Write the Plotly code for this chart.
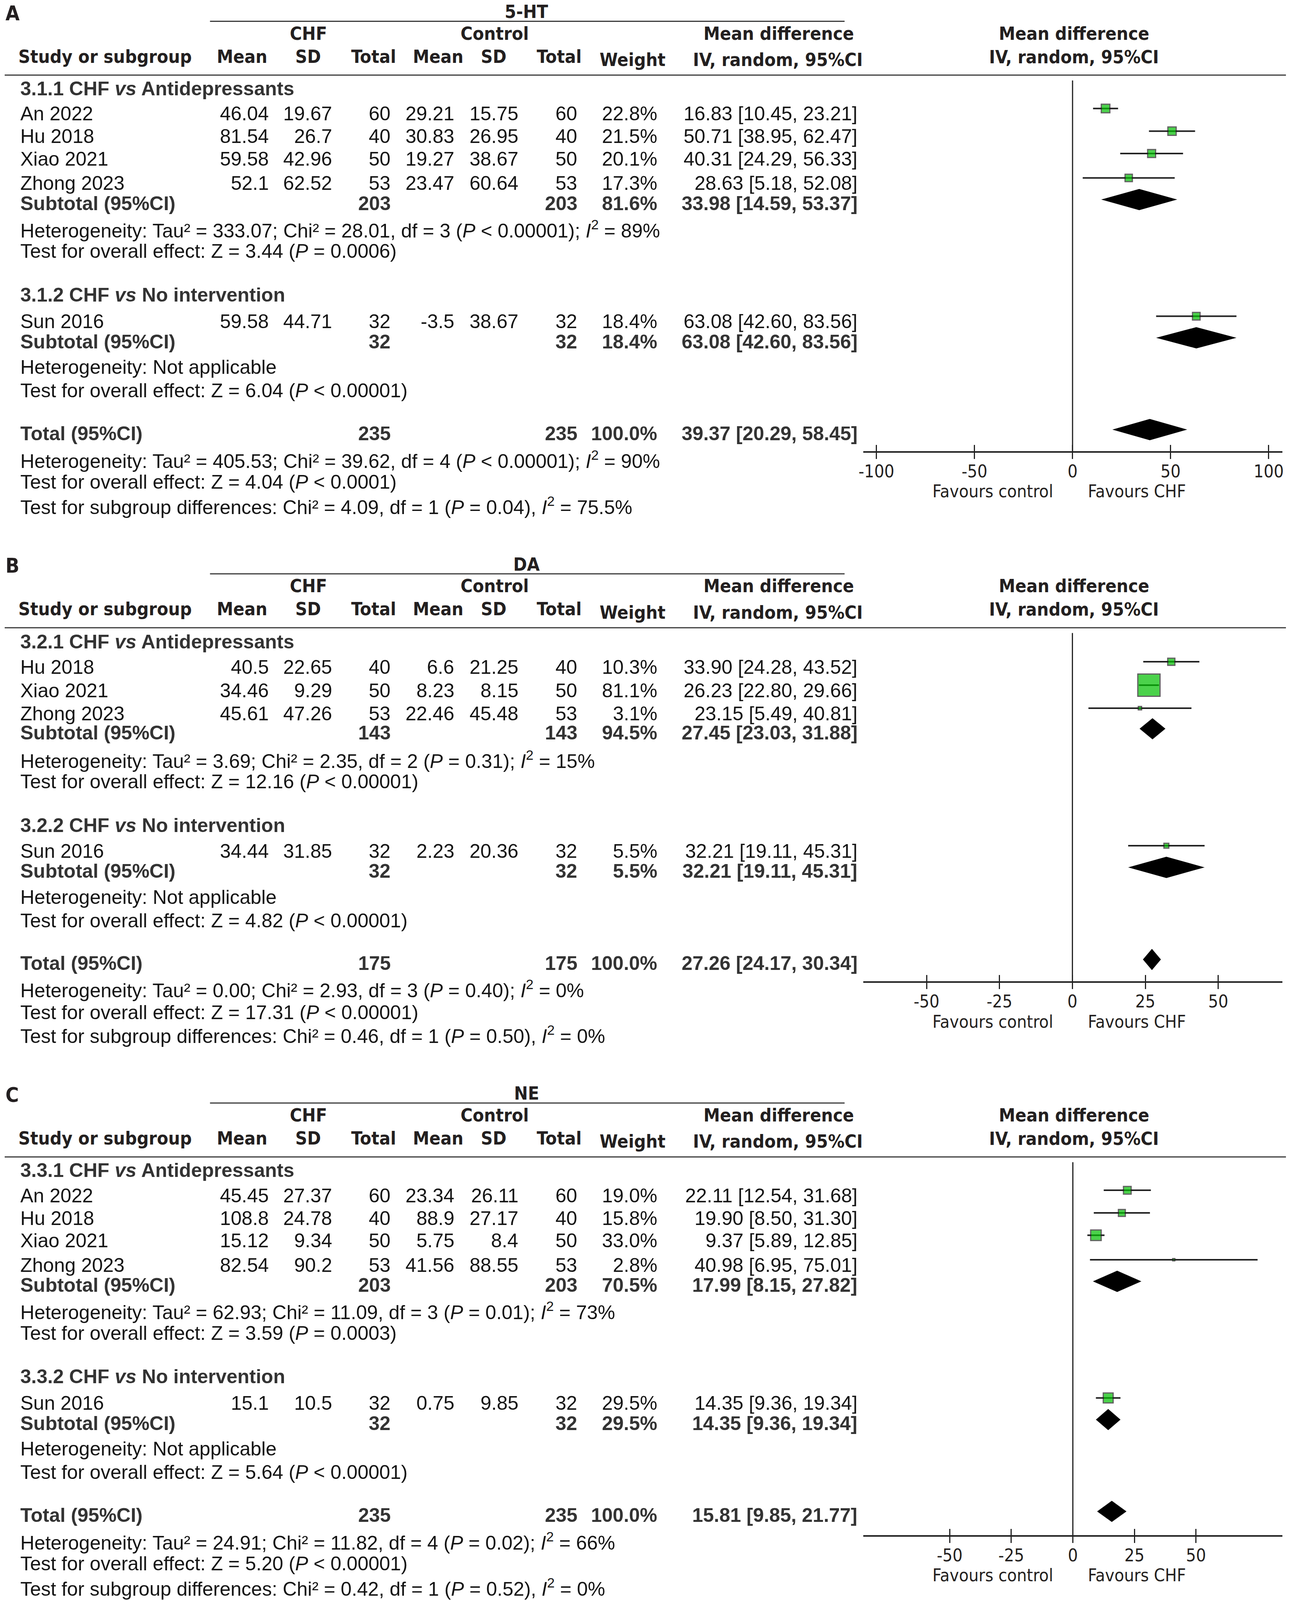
import math
import plotly.graph_objects as go

# Reference drawing space (pixels of the original figure) and the page size actually shown
W, H_REF = 3305, 4514
H_PAGE = 4096          # the browser viewport is 4096 px tall; the y axis keeps reference units

# ======================= DATA =======================
col_headers = ["Mean", "SD", "Total", "Mean", "SD", "Total", "Weight"]
ticks_A = [-100, -50, 0, 50, 100]
ticks_BC = [-50, -25, 0, 25, 50]

# ---- Panel A : 5-HT ----
A_title = "5-HT"
A_groups = ["3.1.1 CHF <i>vs</i> Antidepressants", "3.1.2 CHF <i>vs</i> No intervention"]
A_study = ["An 2022", "Hu 2018", "Xiao 2021", "Zhong 2023", "Sun 2016"]
A_group = [0, 0, 0, 0, 1]
A_chf_mean = [46.04, 81.54, 59.58, 52.1, 59.58]
A_chf_sd = [19.67, 26.7, 42.96, 62.52, 44.71]
A_chf_n = [60, 40, 50, 53, 32]
A_ctl_mean = [29.21, 30.83, 19.27, 23.47, -3.5]
A_ctl_sd = [15.75, 26.95, 38.67, 60.64, 38.67]
A_ctl_n = [60, 40, 50, 53, 32]
A_weight = [22.8, 21.5, 20.1, 17.3, 18.4]
A_md = [16.83, 50.71, 40.31, 28.63, 63.08]
A_lo = [10.45, 38.95, 24.29, 5.18, 42.60]
A_hi = [23.21, 62.47, 56.33, 52.08, 83.56]
A_sub_chf_n = [203, 32]
A_sub_ctl_n = [203, 32]
A_sub_weight = [81.6, 18.4]
A_sub_md = [33.98, 63.08]
A_sub_lo = [14.59, 42.60]
A_sub_hi = [53.37, 83.56]
A_sub_het = ["Heterogeneity: Tau² = 333.07; Chi² = 28.01, df = 3 (<i>P</i> &lt; 0.00001); <i>I</i><sup>2</sup> = 89%",
             "Heterogeneity: Not applicable"]
A_sub_test = ["Test for overall effect: Z = 3.44 (<i>P</i> = 0.0006)",
              "Test for overall effect: Z = 6.04 (<i>P</i> &lt; 0.00001)"]
A_tot_n = [235, 235]
A_tot_weight = 100.0
A_tot_ci = [39.37, 20.29, 58.45]
A_tot_lines = ["Heterogeneity: Tau² = 405.53; Chi² = 39.62, df = 4 (<i>P</i> &lt; 0.00001); <i>I</i><sup>2</sup> = 90%",
               "Test for overall effect: Z = 4.04 (<i>P</i> &lt; 0.0001)",
               "Test for subgroup differences: Chi² = 4.09, df = 1 (<i>P</i> = 0.04), <i>I</i><sup>2</sup> = 75.5%"]

# ---- Panel B : DA ----
B_title = "DA"
B_groups = ["3.2.1 CHF <i>vs</i> Antidepressants", "3.2.2 CHF <i>vs</i> No intervention"]
B_study = ["Hu 2018", "Xiao 2021", "Zhong 2023", "Sun 2016"]
B_group = [0, 0, 0, 1]
B_chf_mean = [40.5, 34.46, 45.61, 34.44]
B_chf_sd = [22.65, 9.29, 47.26, 31.85]
B_chf_n = [40, 50, 53, 32]
B_ctl_mean = [6.6, 8.23, 22.46, 2.23]
B_ctl_sd = [21.25, 8.15, 45.48, 20.36]
B_ctl_n = [40, 50, 53, 32]
B_weight = [10.3, 81.1, 3.1, 5.5]
B_md = [33.90, 26.23, 23.15, 32.21]
B_lo = [24.28, 22.80, 5.49, 19.11]
B_hi = [43.52, 29.66, 40.81, 45.31]
B_sub_chf_n = [143, 32]
B_sub_ctl_n = [143, 32]
B_sub_weight = [94.5, 5.5]
B_sub_md = [27.45, 32.21]
B_sub_lo = [23.03, 19.11]
B_sub_hi = [31.88, 45.31]
B_sub_het = ["Heterogeneity: Tau² = 3.69; Chi² = 2.35, df = 2 (<i>P</i> = 0.31); <i>I</i><sup>2</sup> = 15%",
             "Heterogeneity: Not applicable"]
B_sub_test = ["Test for overall effect: Z = 12.16 (<i>P</i> &lt; 0.00001)",
              "Test for overall effect: Z = 4.82 (<i>P</i> &lt; 0.00001)"]
B_tot_n = [175, 175]
B_tot_weight = 100.0
B_tot_ci = [27.26, 24.17, 30.34]
B_tot_lines = ["Heterogeneity: Tau² = 0.00; Chi² = 2.93, df = 3 (<i>P</i> = 0.40); <i>I</i><sup>2</sup> = 0%",
               "Test for overall effect: Z = 17.31 (<i>P</i> &lt; 0.00001)",
               "Test for subgroup differences: Chi² = 0.46, df = 1 (<i>P</i> = 0.50), <i>I</i><sup>2</sup> = 0%"]

# ---- Panel C : NE ----
C_title = "NE"
C_groups = ["3.3.1 CHF <i>vs</i> Antidepressants", "3.3.2 CHF <i>vs</i> No intervention"]
C_study = ["An 2022", "Hu 2018", "Xiao 2021", "Zhong 2023", "Sun 2016"]
C_group = [0, 0, 0, 0, 1]
C_chf_mean = [45.45, 108.8, 15.12, 82.54, 15.1]
C_chf_sd = [27.37, 24.78, 9.34, 90.2, 10.5]
C_chf_n = [60, 40, 50, 53, 32]
C_ctl_mean = [23.34, 88.9, 5.75, 41.56, 0.75]
C_ctl_sd = [26.11, 27.17, 8.4, 88.55, 9.85]
C_ctl_n = [60, 40, 50, 53, 32]
C_weight = [19.0, 15.8, 33.0, 2.8, 29.5]
C_md = [22.11, 19.90, 9.37, 40.98, 14.35]
C_lo = [12.54, 8.50, 5.89, 6.95, 9.36]
C_hi = [31.68, 31.30, 12.85, 75.01, 19.34]
C_sub_chf_n = [203, 32]
C_sub_ctl_n = [203, 32]
C_sub_weight = [70.5, 29.5]
C_sub_md = [17.99, 14.35]
C_sub_lo = [8.15, 9.36]
C_sub_hi = [27.82, 19.34]
C_sub_het = ["Heterogeneity: Tau² = 62.93; Chi² = 11.09, df = 3 (<i>P</i> = 0.01); <i>I</i><sup>2</sup> = 73%",
             "Heterogeneity: Not applicable"]
C_sub_test = ["Test for overall effect: Z = 3.59 (<i>P</i> = 0.0003)",
              "Test for overall effect: Z = 5.64 (<i>P</i> &lt; 0.00001)"]
C_tot_n = [235, 235]
C_tot_weight = 100.0
C_tot_ci = [15.81, 9.85, 21.77]
C_tot_lines = ["Heterogeneity: Tau² = 24.91; Chi² = 11.82, df = 4 (<i>P</i> = 0.02); <i>I</i><sup>2</sup> = 66%",
               "Test for overall effect: Z = 5.20 (<i>P</i> &lt; 0.00001)",
               "Test for subgroup differences: Chi² = 0.42, df = 1 (<i>P</i> = 0.52), <i>I</i><sup>2</sup> = 0%"]

# ======================= LAYOUT (reference pixel positions) =======================
BODY = "Liberation Sans, Arial, sans-serif"
HEAD = "DejaVu Sans Condensed, DejaVu Sans, sans-serif"
C_BODY = "#141414"
C_BOLD = "#333333"
C_HEAD = "#231f20"
C_LINE = "#222222"
FS = 50
FS_HEAD = 47
SY = H_PAGE / H_REF

COL_R = [681, 844, 995, 1158, 1323, 1475, 1681]   # right edges of numeric columns
CI_R = 2195
HDR_C = [610, 781, 949, 1115, 1258, 1426, 1615]
LEFT = 38
FOREST_L, FOREST_R = 2208, 3286
TXT_DY = -3

panels = [
    dict(letter="A", title=A_title, off=0, groups=A_groups, study=A_study, grp=A_group,
         cols=[A_chf_mean, A_chf_sd, A_chf_n, A_ctl_mean, A_ctl_sd, A_ctl_n], weight=A_weight,
         md=A_md, lo=A_lo, hi=A_hi, sub_n=[A_sub_chf_n, A_sub_ctl_n], sub_w=A_sub_weight,
         sub_md=A_sub_md, sub_lo=A_sub_lo, sub_hi=A_sub_hi, sub_het=A_sub_het, sub_test=A_sub_test,
         tot_n=A_tot_n, tot_w=A_tot_weight, tot_ci=A_tot_ci, tot_lines=A_tot_lines, ticks=ticks_A,
         xr=[-106.7, 107.0], axis_y=1275, maxsize=25,
         y_g=[253, 835], y_study=[324, 388, 451, 520, 910], y_sub=[577, 967], y_het=[650, 1039],
         y_test=[712, 1105], y_tot=1226, y_totl=[1300, 1363, 1430]),
    dict(letter="B", title=B_title, off=1559, groups=B_groups, study=B_study, grp=B_group,
         cols=[B_chf_mean, B_chf_sd, B_chf_n, B_ctl_mean, B_ctl_sd, B_ctl_n], weight=B_weight,
         md=B_md, lo=B_lo, hi=B_hi, sub_n=[B_sub_chf_n, B_sub_ctl_n], sub_w=B_sub_weight,
         sub_md=B_sub_md, sub_lo=B_sub_lo, sub_hi=B_sub_hi, sub_het=B_sub_het, sub_test=B_sub_test,
         tot_n=B_tot_n, tot_w=B_tot_weight, tot_ci=B_tot_ci, tot_lines=B_tot_lines, ticks=ticks_BC,
         xr=[-71.7, 72.0], axis_y=2771, maxsize=60,
         y_g=[1814, 2332], y_study=[1885, 1951, 2016, 2404], y_sub=[2070, 2461], y_het=[2146, 2534],
         y_test=[2208, 2600], y_tot=2721, y_totl=[2793, 2859, 2922]),
    dict(letter="C", title=C_title, off=3052, groups=C_groups, study=C_study, grp=C_group,
         cols=[C_chf_mean, C_chf_sd, C_chf_n, C_ctl_mean, C_ctl_sd, C_ctl_n], weight=C_weight,
         md=C_md, lo=C_lo, hi=C_hi, sub_n=[C_sub_chf_n, C_sub_ctl_n], sub_w=C_sub_weight,
         sub_md=C_sub_md, sub_lo=C_sub_lo, sub_hi=C_sub_hi, sub_het=C_sub_het, sub_test=C_sub_test,
         tot_n=C_tot_n, tot_w=C_tot_weight, tot_ci=C_tot_ci, tot_lines=C_tot_lines, ticks=ticks_BC,
         xr=[-85.1, 85.1], axis_y=4333, maxsize=30,
         y_g=[3305, 3887], y_study=[3376, 3440, 3503, 3572, 3962], y_sub=[3629, 4019], y_het=[3702, 4091],
         y_test=[3764, 4157], y_tot=4278, y_totl=[4352, 4415, 4482]),
]

annotations = []
shapes = []
traces = []


def ann(x, y, text, anchor="left", size=FS, family=BODY, color=C_BODY, bold=False, vanchor="middle"):
    annotations.append(dict(
        x=x / W, xref="paper", y=y + TXT_DY, yref="y", text=text, showarrow=False,
        xanchor=anchor, yanchor=vanchor,
        font=dict(size=size, family=family, color=color, weight="bold" if bold else "normal")))


def hline(x0, x1, y, width=3, color="#3a3a3a"):
    shapes.append(dict(type="line", xref="paper", yref="y", x0=x0 / W, x1=x1 / W, y0=y, y1=y,
                       line=dict(color=color, width=width)))


def fmt(v):
    return str(v)


def ci(m, l, h):
    return f"{m:.2f} [{l:.2f}, {h:.2f}]"


STUDY_DY = -18
DIAM_DY = -14
DIAM_H = 60

for i, p in enumerate(panels):
    o = p["off"]
    xa = f"x{i + 2}"
    ann(0, o + 5, p["letter"], size=52, family=HEAD, color=C_HEAD, bold=True, vanchor="top")
    ann(1342, o + 3, p["title"], anchor="center", size=FS_HEAD, family=HEAD, color=C_HEAD, bold=True,
        vanchor="top")
    hline(528, 2160, o + 60)
    ann(781, o + 97, "CHF", anchor="center", size=FS_HEAD, family=HEAD, color=C_HEAD, bold=True)
    ann(1260, o + 97, "Control", anchor="center", size=FS_HEAD, family=HEAD, color=C_HEAD, bold=True)
    ann(1991, o + 97, "Mean difference", anchor="center", size=FS_HEAD, family=HEAD, color=C_HEAD, bold=True)
    ann(2750, o + 97, "Mean difference", anchor="center", size=FS_HEAD, family=HEAD, color=C_HEAD, bold=True)
    ann(33, o + 162, "Study or subgroup", size=FS_HEAD, family=HEAD, color=C_HEAD, bold=True)
    for k, h in enumerate(col_headers):
        yy = o + (171 if h == "Weight" else 162)
        ann(HDR_C[k], yy, h, anchor="center", size=FS_HEAD, family=HEAD, color=C_HEAD, bold=True)
    ann(1989, o + 171, "IV, random, 95%CI", anchor="center", size=FS_HEAD, family=HEAD, color=C_HEAD, bold=True)
    ann(2750, o + 163, "IV, random, 95%CI", anchor="center", size=FS_HEAD, family=HEAD, color=C_HEAD, bold=True)
    hline(0, 3295, o + 212)

    for g in range(2):
        ann(LEFT, p["y_g"][g], p["groups"][g], color=C_BOLD, bold=True)
        ann(LEFT, p["y_sub"][g], "Subtotal (95%CI)", color=C_BOLD, bold=True)
        ann(COL_R[2], p["y_sub"][g], fmt(p["sub_n"][0][g]), anchor="right", color=C_BOLD, bold=True)
        ann(COL_R[5], p["y_sub"][g], fmt(p["sub_n"][1][g]), anchor="right", color=C_BOLD, bold=True)
        ann(COL_R[6], p["y_sub"][g], f"{p['sub_w'][g]:.1f}%", anchor="right", color=C_BOLD, bold=True)
        ann(CI_R, p["y_sub"][g], ci(p["sub_md"][g], p["sub_lo"][g], p["sub_hi"][g]), anchor="right",
            color=C_BOLD, bold=True)
        ann(LEFT, p["y_het"][g], p["sub_het"][g])
        ann(LEFT, p["y_test"][g], p["sub_test"][g])

    for j, s in enumerate(p["study"]):
        y = p["y_study"][j]
        ann(LEFT, y, s)
        for k in range(6):
            ann(COL_R[k], y, fmt(p["cols"][k][j]), anchor="right")
        ann(COL_R[6], y, f"{p['weight'][j]:.1f}%", anchor="right")
        ann(CI_R, y, ci(p["md"][j], p["lo"][j], p["hi"][j]), anchor="right")

    ann(LEFT, p["y_tot"], "Total (95%CI)", color=C_BOLD, bold=True)
    ann(COL_R[2], p["y_tot"], fmt(p["tot_n"][0]), anchor="right", color=C_BOLD, bold=True)
    ann(COL_R[5], p["y_tot"], fmt(p["tot_n"][1]), anchor="right", color=C_BOLD, bold=True)
    ann(COL_R[6], p["y_tot"], f"{p['tot_w']:.1f}%", anchor="right", color=C_BOLD, bold=True)
    ann(CI_R, p["y_tot"], ci(*p["tot_ci"]), anchor="right", color=C_BOLD, bold=True)
    for t, line in enumerate(p["tot_lines"]):
        ann(LEFT, p["y_totl"][t], line)

    # study squares with CI whiskers
    wmax = max(p["weight"])
    sizes = [p["maxsize"] * math.sqrt(w / wmax) - 3 for w in p["weight"]]
    traces.append(go.Scatter(
        x=p["md"], y=[y + STUDY_DY for y in p["y_study"]], xaxis=xa, yaxis="y", mode="markers",
        marker=dict(symbol="square", size=sizes, color="#00c000", line=dict(color="#1e1e1e", width=3)),
        error_x=dict(type="data", symmetric=False,
                     array=[h - m for h, m in zip(p["hi"], p["md"])],
                     arrayminus=[m - l for m, l in zip(p["md"], p["lo"])],
                     width=0, thickness=4, color="#222222"),
        hoverinfo="skip", showlegend=False))

    # pooled diamonds
    diams = [(p["sub_md"][g], p["sub_lo"][g], p["sub_hi"][g], p["y_sub"][g]) for g in range(2)]
    diams.append((p["tot_ci"][0], p["tot_ci"][1], p["tot_ci"][2], p["y_tot"]))
    for m, l, h, yy in diams:
        yc = yy + DIAM_DY
        traces.append(go.Scatter(
            x=[l, m, h, m, l], y=[yc, yc - DIAM_H / 2, yc, yc + DIAM_H / 2, yc],
            xaxis=xa, yaxis="y", mode="lines", fill="toself", fillcolor="#000000",
            line=dict(width=0, color="#000000"), hoverinfo="skip", showlegend=False))

    # line of no effect
    shapes.append(dict(type="line", xref=xa, yref="y", x0=0, x1=0, y0=o + 227, y1=p["axis_y"],
                       line=dict(color=C_LINE, width=3)))

    ann(2698, p["axis_y"] + 114, "Favours control", anchor="right", size=45, family=HEAD, color=C_HEAD)
    ann(2784, p["axis_y"] + 114, "Favours CHF", anchor="left", size=45, family=HEAD, color=C_HEAD)

    # invisible point that makes the overlay tick axis render
    traces.append(go.Scatter(x=[0], y=[-500], xaxis=f"x{i + 5}", yaxis="y", mode="markers",
                             marker=dict(opacity=0), hoverinfo="skip", showlegend=False))

fig = go.Figure(data=traces)

layout = dict(
    width=W, height=H_PAGE, autosize=False,
    margin=dict(l=0, r=0, t=0, b=0, pad=0),
    paper_bgcolor="white", plot_bgcolor="rgba(0,0,0,0)",
    showlegend=False,
    xaxis=dict(range=[0, W], domain=[0, 1], visible=False, fixedrange=True),
    yaxis=dict(range=[H_REF, 0], domain=[0, 1], visible=False, anchor="x", fixedrange=True),
    annotations=annotations, shapes=shapes,
)
for i, p in enumerate(panels):
    dom = [FOREST_L / W, FOREST_R / W]
    pos = 1 - p["axis_y"] / H_REF
    # main axis: line, upper tick half, labels
    layout[f"xaxis{i + 2}"] = dict(
        domain=dom, range=p["xr"], anchor="free", position=pos, side="bottom",
        showline=True, linecolor=C_LINE, linewidth=4,
        ticks="inside", ticklen=round(18 * SY), tickwidth=3, tickcolor=C_LINE,
        tickvals=p["ticks"], ticktext=[str(t) for t in p["ticks"]],
        tickfont=dict(family=HEAD, size=45, color=C_HEAD), ticklabelstandoff=9,
        showgrid=False, zeroline=False, fixedrange=True)
    # overlay axis: lower tick half
    layout[f"xaxis{i + 5}"] = dict(
        domain=dom, range=p["xr"], anchor="free", position=pos, side="bottom",
        overlaying=f"x{i + 2}", ticks="outside", ticklen=round(19 * SY), tickwidth=3, tickcolor=C_LINE,
        tickvals=p["ticks"], showticklabels=False, showline=False,
        showgrid=False, zeroline=False, fixedrange=True)

fig.update_layout(**layout)

fig.write_html("out.html", config={"displayModeBar": False, "staticPlot": True},
               post_script="document.body.style.margin='0';")
